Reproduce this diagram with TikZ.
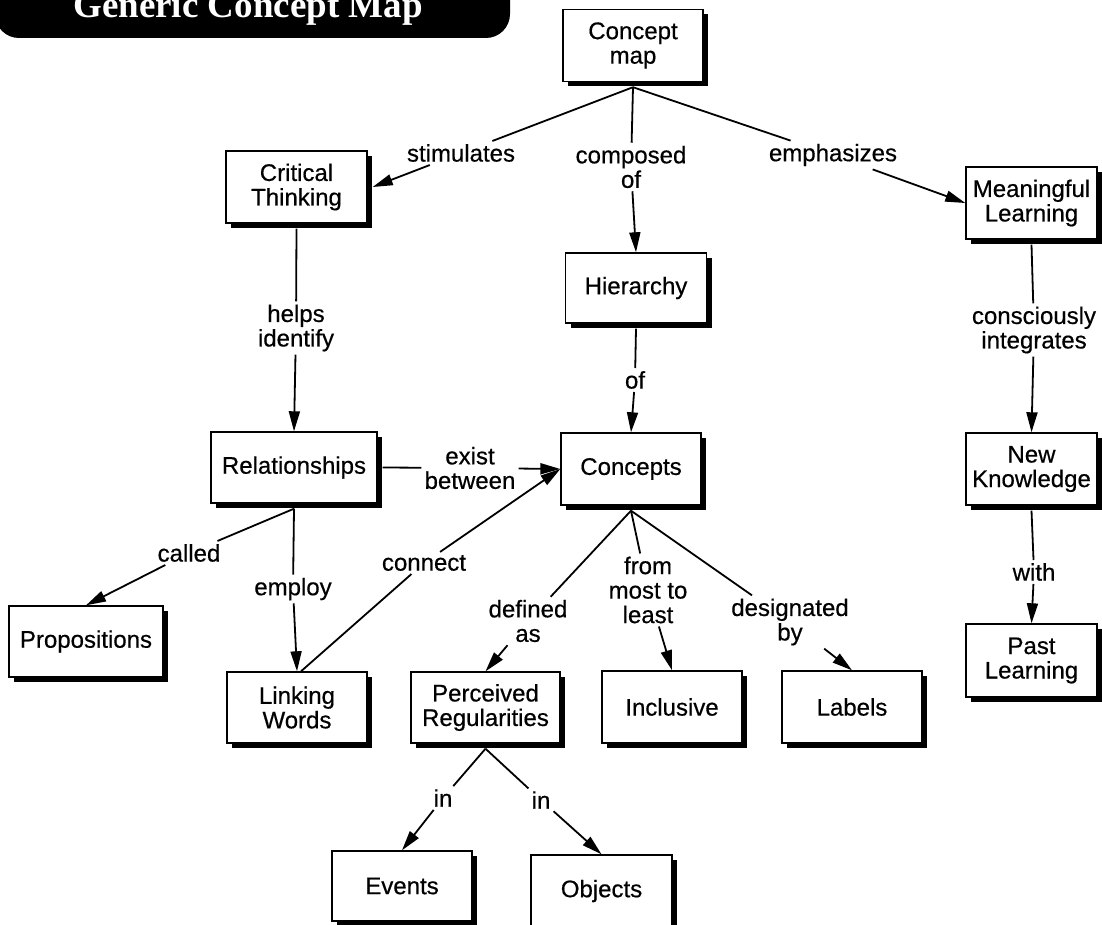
\documentclass[tikz,border=0pt]{standalone}
\usepackage{fontspec}
\setmainfont{Liberation Sans}
\newfontfamily\mapsans[BoldFont={Liberation Sans},BoldFeatures={FakeBold=0.5}]{Liberation Sans}
\newfontfamily\mapserif{Liberation Serif}
\usetikzlibrary{arrows.meta,shadows}

\begin{document}
\begin{tikzpicture}[x=1pt,y=-1pt]
    \tikzset{concept/.style={draw,fill=white,line width=1.4pt,align=center,inner sep=2pt,
      minimum width=140pt,minimum height=72pt,font=\mapsans\bfseries\fontsize{24}{24.5}\selectfont,
      drop shadow={shadow xshift=5pt,shadow yshift=-5pt,fill=black,opacity=1}},
      linkword/.style={align=center,inner sep=3pt,font=\mapsans\bfseries\fontsize{24}{24.5}\selectfont},
      link/.style={line width=1.8pt},
      linkarrow/.style={line width=1.8pt,-{Triangle[length=20pt,width=11pt]}}}
    \useasboundingbox (0,0) rectangle (1102,925);
    % title tab
    \fill[black,rounded corners=24pt] (-5,-60) rectangle (510,38);
    \node[text=white,font=\mapserif\bfseries\fontsize{37}{37}\selectfont,anchor=base] (title) at (248,18) {Generic Concept Map};
    % concepts
    \node[concept] (cmap) at (633,45.5) {Concept\\map};
    \node[concept,minimum width=141pt] (crit) at (296.5,187) {Critical\\Thinking};
    \node[concept,minimum width=131pt] (mean) at (1031.5,203) {Meaningful\\Learning};
    \node[concept,minimum width=141pt,minimum height=70pt] (hier) at (636,288) {Hierarchy};
    \node[concept,minimum width=166pt,minimum height=71pt] (rel) at (294,467.5) {Relationships};
    \node[concept] (conc) at (631,469) {Concepts};
    \node[concept,minimum width=131pt] (newk) at (1031.5,469) {New\\Knowledge};
    \node[concept,minimum width=154pt,minimum height=71pt] (prop) at (86,641.5) {Propositions};
    \node[concept,minimum width=131pt,minimum height=73pt] (past) at (1031.5,660.5) {Past\\Learning};
    \node[concept,minimum height=71pt] (lword) at (297,707.5) {Linking\\Words};
    \node[concept,minimum width=149pt,minimum height=71pt] (perc) at (485.5,707.5) {Perceived\\Regularities};
    \node[concept] (incl) at (672,707) {Inclusive};
    \node[concept] (lab) at (852,707) {Labels};
    \node[concept,minimum height=70pt] (evt) at (402,886) {Events};
    \node[concept,minimum width=141pt] (obj) at (601.5,891) {Objects};
    % linking phrases
    \node[linkword] (stim) at (461,153) {stimulates};
    \node[linkword] (comp) at (631,167) {composed\\of};
    \node[linkword] (emph) at (833,155) {emphasizes};
    \node[linkword] (helps) at (296,328) {helps\\identify};
    \node[linkword] (ofl) at (635,380) {of};
    \node[linkword] (consc) at (1034,330) {consciously\\integrates};
    \node[linkword] (withl) at (1034,572) {with};
    \node[linkword] (exist) at (470,468) {exist\\between};
    \node[linkword] (called) at (189,553) {called};
    \node[linkword] (employ) at (293,589) {employ};
    \node[linkword] (conn) at (424,563) {connect};
    \node[linkword] (defas) at (528,621) {defined\\as};
    \node[linkword] (most) at (648,590) {from\\most to\\least};
    \node[linkword] (desig) at (790,622) {designated\\by};
    \node[linkword] (inev) at (443,798) {in};
    \node[linkword] (inob) at (541,800) {in};
    % links
    \draw[link] ([yshift=-5pt]cmap.south) -- (stim);
    \draw[linkarrow] (stim) -- ([xshift=5pt]crit.east);
    \draw[link] ([yshift=-5pt]cmap.south) -- (comp);
    \draw[linkarrow] (comp) -- (hier.north);
    \draw[link] ([yshift=-5pt]cmap.south) -- (emph);
    \draw[linkarrow] (emph) -- (mean.west);
    \draw[link] ([yshift=-5pt]crit.south) -- (helps);
    \draw[linkarrow] (helps) -- (rel.north);
    \draw[link] ([yshift=-5pt]hier.south) -- (ofl);
    \draw[linkarrow] (ofl) -- (conc.north);
    \draw[link] ([yshift=-5pt]mean.south) -- (consc);
    \draw[linkarrow] (consc) -- (newk.north);
    \draw[link] ([yshift=-5pt]newk.south) -- (withl);
    \draw[linkarrow] (withl) -- (past.north);
    \draw[link] ([xshift=5pt]rel.east) -- (exist);
    \draw[linkarrow] (exist) -- (conc.west);
    \draw[link] ([yshift=-5pt]rel.south) -- (called);
    \draw[linkarrow] (called) -- (prop.north);
    \draw[link] ([yshift=-5pt]rel.south) -- (employ);
    \draw[linkarrow] (employ) -- (lword.north);
    \draw[link] ([xshift=4pt]lword.north) -- (conn);
    \draw[linkarrow] (conn) -- (conc.west);
    \draw[link] ([yshift=-5pt]conc.south) -- (defas);
    \draw[linkarrow] (defas) -- (perc.north);
    \draw[link] ([yshift=-5pt]conc.south) -- (most);
    \draw[linkarrow] (most) -- (incl.north);
    \draw[link] ([yshift=-5pt]conc.south) -- (desig);
    \draw[linkarrow] (desig) -- (lab.north);
    \draw[link] ([yshift=-5pt]perc.south) -- (inev);
    \draw[linkarrow] (inev) -- (evt.north);
    \draw[link] ([yshift=-5pt]perc.south) -- (inob);
    \draw[linkarrow] (inob) -- (obj.north);
\end{tikzpicture}
\end{document}
